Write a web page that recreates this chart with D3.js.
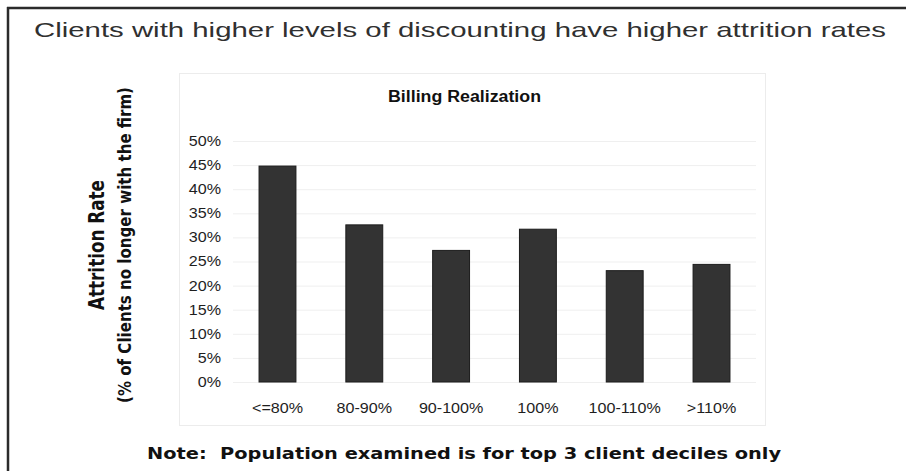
<!DOCTYPE html>
<html>
<head>
<meta charset="utf-8">
<script src="https://cdn.jsdelivr.net/npm/d3@7"></script>
<style>
    body { margin: 0; background: #fff; }
    svg { display: block; }
    text { white-space: pre; }
</style>
</head>
<body>
<div id="chart"></div>
<script>
// chart data
const categories = ["<=80%", "80-90%", "90-100%", "100%", "100-110%", ">110%"];
const attritionRates = [44.8, 32.6, 27.3, 31.7, 23.1, 24.4];
const tickValues = [0, 5, 10, 15, 20, 25, 30, 35, 40, 45, 50];

const titleText = "Clients with higher levels of discounting have higher attrition rates";
const chartTitle = "Billing Realization";
const yTitle = "Attrition Rate";
const ySubTitle = "(% of Clients no longer with the firm)";
const noteText = "Note:  Population examined is for top 3 client deciles only";

let width = 906, height = 471;
let plot = {left: 233, right: 756, top: 141, bottom: 382};
let stretch = 1.15;   // source picture is a bit wide, glyphs are stretched horizontally

let svg = d3.select("#chart")
    .append("svg")
    .attr("width", width)
    .attr("height", height);

/* outer frame, only top and left edges are visible */
svg.append("line")
    .attr("x1", 7).attr("x2", width).attr("y1", 8).attr("y2", 8)
    .attr("stroke", "#2b2b2b").attr("stroke-width", 2.5);
svg.append("line")
    .attr("x1", 8).attr("x2", 8).attr("y1", 7).attr("y2", height)
    .attr("stroke", "#2b2b2b").attr("stroke-width", 2.5);

svg.append("text")
    .attr("x", 34)
    .attr("y", 37)
    .attr("font-family", "Liberation Sans, Arial, sans-serif")
    .attr("font-size", "21px")
    .attr("fill", "#303030")
    .attr("textLength", 852)
    .attr("lengthAdjust", "spacingAndGlyphs")
    .text(titleText);

/* chart area box */
svg.append("rect")
    .attr("x", 179.5).attr("y", 73.5)
    .attr("width", 586).attr("height", 352)
    .attr("fill", "#fff")
    .attr("stroke", "#ececec");

svg.append("text")
    .attr("x", 388)
    .attr("y", 102)
    .attr("font-family", "Liberation Sans, Arial, sans-serif")
    .attr("font-weight", "bold")
    .attr("font-size", "16px")
    .attr("fill", "#111")
    .attr("textLength", 153)
    .attr("lengthAdjust", "spacingAndGlyphs")
    .text(chartTitle);

let xScale = d3.scaleBand()
    .domain(categories)
    .range([plot.left, plot.right])
    .paddingInner(0.575)
    .paddingOuter(0.3);

let yScale = d3.scaleLinear()
    .domain([0, 50])
    .range([plot.bottom, plot.top]);

/* horizontal grid lines */
svg.append("g")
    .attr("class", "grid")
    .attr("transform", "translate(" + plot.left + ",0)")
    .call(d3.axisLeft(yScale)
        .tickValues(tickValues)
        .tickSize(-(plot.right - plot.left))
        .tickFormat(""))
    .call(g => g.select(".domain").remove())
    .call(g => g.selectAll("line").attr("stroke", "#efefef"));

/* y axis labels */
svg.append("g")
    .attr("transform", "translate(221,0)")
    .call(d3.axisLeft(yScale)
        .tickValues(tickValues)
        .tickSize(0)
        .tickPadding(0)
        .tickFormat(d => d + "%"))
    .call(g => g.select(".domain").remove())
    .call(g => g.selectAll("text")
        .attr("font-family", "Liberation Sans, Arial, sans-serif")
        .attr("font-size", "14px")
        .attr("fill", "#1e1e1e")
        .attr("x", 0)
        .attr("transform", "scale(" + stretch + ",1)"));

/* bars */
svg.selectAll("rect.bar")
    .data(attritionRates)
    .enter()
    .append("rect")
    .attr("class", "bar")
    .attr("x", (d, i) => xScale(categories[i]))
    .attr("y", d => yScale(d))
    .attr("width", xScale.bandwidth())
    .attr("height", d => plot.bottom - yScale(d))
    .attr("fill", "#333")
    .attr("stroke", "#1c1c1c")
    .attr("stroke-width", 1);

/* x axis labels */
svg.append("g")
    .attr("transform", "translate(0," + (plot.bottom + 31) + ")")
    .call(d3.axisBottom(xScale).tickSize(0).tickPadding(0))
    .call(g => g.select(".domain").remove())
    .call(g => g.selectAll("text")
        .attr("font-family", "Liberation Sans, Arial, sans-serif")
        .attr("font-size", "14px")
        .attr("fill", "#1e1e1e")
        .attr("y", 0)
        .attr("dy", 0)
        .attr("transform", "scale(" + stretch + ",1)"));

/* y axis titles, rotated */
svg.append("text")
    .attr("transform", "translate(104,245) scale(1.25,1) rotate(-90)")
    .attr("text-anchor", "middle")
    .attr("font-family", "DejaVu Sans, Verdana, sans-serif")
    .attr("font-weight", "bold")
    .attr("font-size", "17px")
    .attr("fill", "#111")
    .attr("textLength", 130)
    .attr("lengthAdjust", "spacingAndGlyphs")
    .text(yTitle);

svg.append("text")
    .attr("transform", "translate(131,245) scale(1.25,1) rotate(-90)")
    .attr("text-anchor", "middle")
    .attr("font-family", "DejaVu Sans, Verdana, sans-serif")
    .attr("font-weight", "bold")
    .attr("font-size", "14px")
    .attr("fill", "#111")
    .attr("textLength", 316)
    .attr("lengthAdjust", "spacingAndGlyphs")
    .text(ySubTitle);

/* footnote */
svg.append("text")
    .attr("x", 147)
    .attr("y", 459)
    .attr("font-family", "DejaVu Sans, Verdana, sans-serif")
    .attr("font-weight", "bold")
    .attr("font-size", "16px")
    .attr("fill", "#111")
    .attr("textLength", 634)
    .attr("lengthAdjust", "spacingAndGlyphs")
    .text(noteText);
</script>
</body>
</html>
